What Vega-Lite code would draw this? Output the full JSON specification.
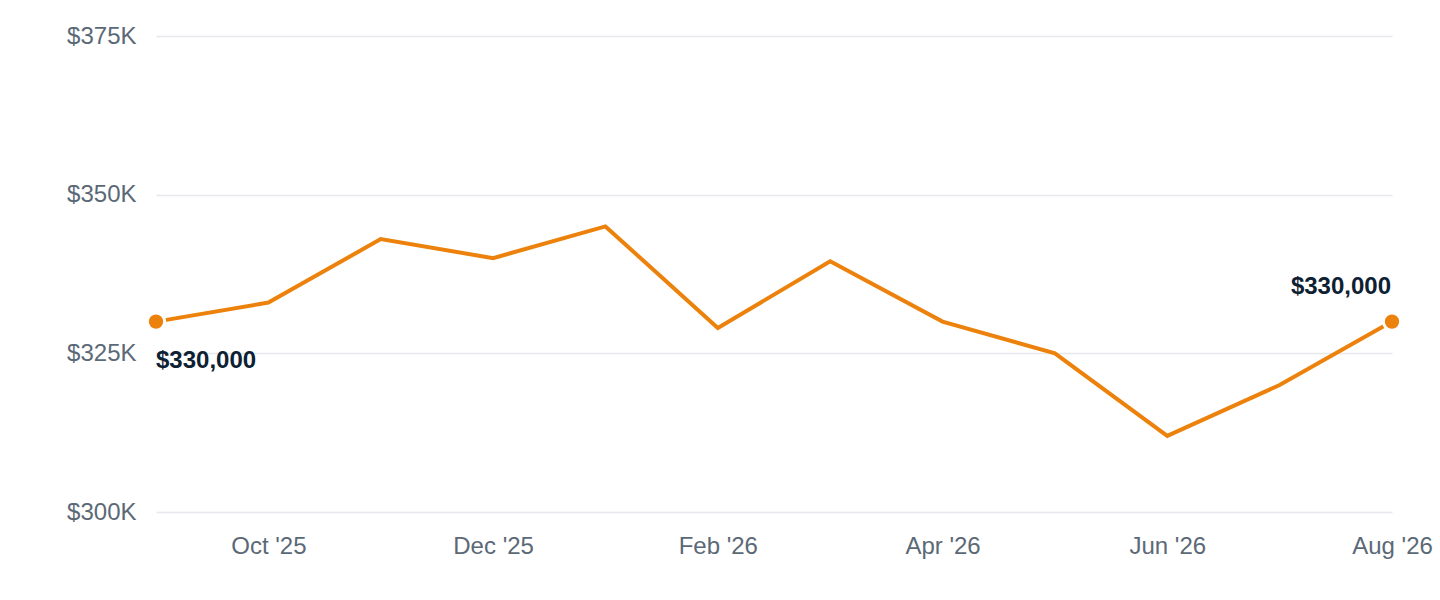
{
  "$schema": "https://vega.github.io/schema/vega-lite/v6.json",
  "autosize": {"type": "none"},
  "width": 1236,
  "height": 476,
  "padding": {"left": 156, "top": 36, "right": 48, "bottom": 88},
  "background": "white",
  "data": {
    "values": [
      {"month": "Sep '25", "price": 330000},
      {"month": "Oct '25", "price": 333000},
      {"month": "Nov '25", "price": 343000},
      {"month": "Dec '25", "price": 340000},
      {"month": "Jan '26", "price": 345000},
      {"month": "Feb '26", "price": 329000},
      {"month": "Mar '26", "price": 339500},
      {"month": "Apr '26", "price": 330000},
      {"month": "May '26", "price": 325000},
      {"month": "Jun '26", "price": 312000},
      {"month": "Jul '26", "price": 320000},
      {"month": "Aug '26", "price": 330000}
    ]
  },
  "encoding": {
    "x": {
      "field": "month",
      "type": "ordinal",
      "sort": null,
      "scale": {"type": "point", "padding": 0},
      "axis": {
        "title": null,
        "values": ["Oct '25", "Dec '25", "Feb '26", "Apr '26", "Jun '26", "Aug '26"],
        "labelAngle": 0,
        "domain": false,
        "ticks": false,
        "grid": false,
        "labelPadding": 22,
        "labelFontSize": 24,
        "labelColor": "#5b6976",
        "labelFont": "Liberation Sans"
      }
    },
    "y": {
      "field": "price",
      "type": "quantitative",
      "scale": {"domain": [300000, 375000]},
      "axis": {
        "title": null,
        "values": [300000, 325000, 350000, 375000],
        "labelExpr": "'$' + datum.value / 1000 + 'K'",
        "domain": false,
        "ticks": false,
        "grid": true,
        "gridColor": "#e5e8ec",
        "gridWidth": 1.5,
        "labelPadding": 20,
        "labelFontSize": 24,
        "labelColor": "#5b6976",
        "labelFont": "Liberation Sans"
      }
    }
  },
  "layer": [
    {
      "mark": {"type": "line", "color": "#ec820b", "strokeWidth": 4, "strokeJoin": "miter"}
    },
    {
      "transform": [{"filter": "datum.month === \"Sep '25\" || datum.month === \"Aug '26\""}],
      "mark": {"type": "point", "filled": true, "color": "#ec820b", "size": 300, "stroke": "white", "strokeWidth": 3, "opacity": 1}
    },
    {
      "transform": [{"filter": "datum.month === \"Sep '25\""}],
      "mark": {"type": "text", "align": "left", "baseline": "top", "dy": 27, "fontSize": 24, "fontWeight": "bold", "font": "Liberation Sans", "color": "#0d2133"},
      "encoding": {"text": {"field": "price", "type": "quantitative", "format": "$,.0f"}}
    },
    {
      "transform": [{"filter": "datum.month === \"Aug '26\""}],
      "mark": {"type": "text", "align": "right", "baseline": "bottom", "dy": -23, "dx": -1, "fontSize": 24, "fontWeight": "bold", "font": "Liberation Sans", "color": "#0d2133"},
      "encoding": {"text": {"field": "price", "type": "quantitative", "format": "$,.0f"}}
    }
  ],
  "config": {
    "view": {"stroke": null}
  }
}
